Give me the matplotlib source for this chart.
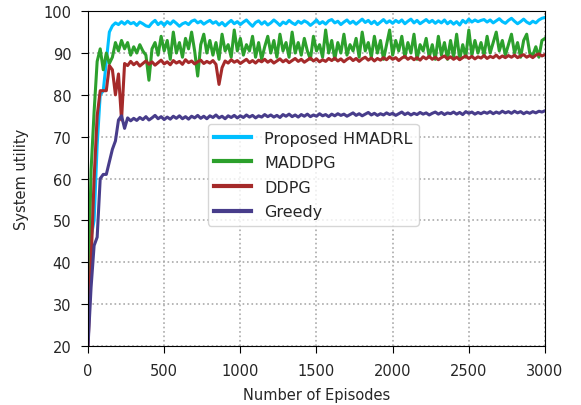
import numpy as np
import matplotlib
matplotlib.use("Agg")
import matplotlib.pyplot as plt

episodes = list(range(0, 3001, 20))

proposed = [
    25, 46, 50, 68, 80, 81, 88, 95, 96.5, 97.2,
    96.8, 97.5, 96.9, 97.6, 97.0, 97.3, 96.6, 97.4, 97.0, 96.5,
    96.3, 97.2, 97.8, 96.8, 97.4, 96.6, 97.5, 96.9, 97.7, 97.1,
    96.4, 97.0, 97.3, 96.8, 97.6, 97.9, 97.2, 97.6, 96.9, 97.4,
    97.8, 97.1, 97.5, 96.7, 97.3, 96.5, 97.2, 97.8, 97.0, 97.5,
    96.8, 97.4, 97.9, 97.1, 96.4, 97.3, 97.7, 96.9, 97.5, 96.7,
    97.2, 97.9, 97.3, 96.6, 97.4, 97.0, 97.8, 97.2, 96.8, 97.6,
    97.1, 97.7, 97.3, 96.6, 97.2, 97.9, 97.0, 97.5, 96.9, 97.7,
    98.0, 97.2, 97.6, 96.8, 97.4, 97.9, 97.1, 97.6, 96.9, 97.5,
    98.1, 97.3, 97.8, 97.0, 97.6, 96.8, 97.4, 98.0, 97.2, 97.7,
    97.1, 97.8, 97.3, 97.9, 97.0, 97.6, 98.1, 97.2, 97.8, 97.0,
    97.5, 98.0, 97.3, 97.8, 97.1, 97.7, 97.2, 97.9, 97.0, 97.6,
    96.9, 97.5, 96.7, 97.8, 97.2, 98.1, 97.4, 97.9, 97.5, 97.8,
    98.0, 97.4, 97.9, 97.2, 97.7, 98.2, 97.5, 97.1, 97.8, 98.3,
    97.6, 97.0, 97.5, 98.1, 97.4, 97.0, 97.6, 97.2, 97.9, 98.3, 98.5,
]

maddpg = [
    30, 62, 76, 88, 91, 86, 90, 87.5, 89, 92.5,
    90.5, 93, 91, 92.5, 89.5, 91.5, 90, 92, 90.5, 89.5,
    83.5, 91, 92.5, 89.5, 94, 90.5, 93, 88.5, 95, 90,
    92.5, 89, 93.5, 91, 95, 90.5, 84.5, 92, 94.5, 90,
    93, 89.5, 92.5, 88.5, 94.5, 90.5, 92, 89, 95.5, 90.5,
    93.5, 89.5, 92, 90.5, 94, 89, 92.5, 88.5, 91.5, 94,
    90, 93, 89, 94.5, 90.5, 92.5, 89, 95, 90, 92.5,
    89.5, 93.5, 90.5, 88.5, 94, 90.5, 92, 89, 95.5, 90,
    93, 88.5, 92.5, 90, 94.5, 89.5, 92, 90.5, 93.5, 89,
    95, 90.5, 92.5, 89, 94, 90, 93, 88.5, 92, 95.5,
    89.5, 93, 90.5, 94, 89, 92.5, 90, 94.5, 88.5, 92,
    90.5, 93.5, 89, 92, 88.5, 94, 89.5, 92.5, 88.5, 93,
    89, 94.5, 88.5, 92, 89, 95.5, 89.5, 93, 90, 92.5,
    89.5, 94, 90, 92.5, 95, 90.5, 93, 89.5, 92, 94.5,
    90, 92.5, 89, 93, 94.5, 90, 89.5, 91.5, 89, 93, 93.5,
]

ddpg = [
    20, 40, 60, 75, 81, 81, 81, 87, 86, 80,
    85, 74, 87.5, 87, 88, 87.2, 87.8, 86.9, 87.5, 88.1,
    87.3, 87.9, 87.1, 87.7, 88.3, 87.4, 87.9, 87.2, 88.2, 87.6,
    88.0, 87.3, 88.4, 87.7, 88.1, 87.4, 87.9, 88.3, 87.5, 88.0,
    87.6, 88.2, 87.3, 82.5, 86.5, 88.1, 87.6, 88.4, 87.8, 88.2,
    87.5, 88.0, 88.5, 87.7, 88.2, 87.6, 88.3, 87.9, 88.5, 87.8,
    88.3, 87.6, 88.1, 88.6, 87.9, 88.4, 87.7, 88.2, 88.7, 88.0,
    88.5, 87.8, 88.3, 88.8, 88.1, 88.6, 87.9, 88.4, 88.0, 88.7,
    88.2, 88.8, 88.1, 88.6, 87.9, 88.5, 88.9, 88.2, 88.7, 88.0,
    88.6, 89.0, 88.3, 88.8, 88.1, 88.7, 88.3, 88.9, 88.4, 89.1,
    88.5, 88.9, 88.2, 88.8, 89.2, 88.5, 89.0, 88.4, 88.9, 88.3,
    89.1, 88.6, 89.2, 88.5, 89.0, 88.4, 88.9, 89.3, 88.6, 89.1,
    88.5, 89.0, 88.4, 88.9, 89.3, 88.7, 89.2, 88.6, 89.1, 88.8,
    89.4, 88.7, 89.2, 88.9, 89.5, 88.8, 89.3, 88.9, 89.4, 89.0,
    89.5, 88.9, 89.3, 89.6, 89.0, 89.4, 88.9, 89.5, 89.8, 89.3, 89.6,
]

greedy = [
    20, 34, 44, 46, 60, 61, 61, 64, 67, 69,
    74, 75, 72, 74.5, 73.8, 74.4, 73.9, 74.6, 74.1, 74.8,
    74.0, 74.5, 75.1, 74.3, 74.8, 74.1, 74.7, 74.2, 74.9, 74.4,
    75.0, 74.3, 74.8, 74.2, 74.9, 74.5, 75.1, 74.4, 74.9, 74.3,
    75.0, 74.6, 75.2, 74.5, 74.9, 74.3, 75.0, 74.6, 75.1, 74.5,
    75.0, 74.6, 75.2, 74.7, 75.1, 74.5, 75.0, 74.7, 75.3, 74.8,
    75.2, 74.7, 75.1, 74.6, 75.3, 74.9, 75.4, 74.8, 75.2, 74.7,
    75.3, 74.9, 75.4, 74.8, 75.2, 74.9, 75.5, 75.0, 75.3, 74.8,
    75.4, 75.0, 75.5, 75.1, 75.4, 74.9, 75.3, 75.7, 75.1, 75.5,
    75.0, 75.4, 75.8, 75.2, 75.6, 75.1, 75.5, 75.2, 75.7, 75.3,
    75.6, 75.1, 75.5, 75.9, 75.3, 75.7, 75.2, 75.6, 75.3, 75.8,
    75.4, 75.7, 75.2, 75.6, 75.9, 75.4, 75.8, 75.3, 75.7, 75.5,
    75.9, 75.4, 75.8, 75.3, 76.0, 75.6, 75.9, 75.4, 75.8, 75.5,
    75.9, 75.6, 76.0, 75.5, 75.9, 75.6, 76.1, 75.7, 76.0, 75.6,
    76.1, 75.7, 76.0, 75.5, 75.9, 75.6, 76.0, 75.7, 76.1, 75.9, 76.2,
]

labels = ["Proposed HMADRL", "MADDPG", "DDPG", "Greedy"]
colors = ["#00BFFF", "#2CA02C", "#A52A2A", "#483D8B"]
series = [proposed, maddpg, ddpg, greedy]

text_color = "#262626"
fig = plt.figure(figsize=(5.81, 4.06), dpi=100)
ax = fig.add_axes([0.1515, 0.1453, 0.7865, 0.8247])
for s, c, l in zip(series, colors, labels):
    ax.plot(episodes, s, color=c, lw=2.2, label=l)

ax.set_xlim(0, 3000)
ax.set_ylim(20, 100)
ax.set_xticks(range(0, 3001, 500))
ax.set_yticks(range(20, 101, 10))
ax.tick_params(labelsize=10.5, length=5, pad=7, labelcolor=text_color)
ax.grid(True, linestyle=":", color="#AAAAAA", lw=1.2)
ax.set_xlabel("Number of Episodes", fontsize=10.5, color=text_color, labelpad=7)
ax.set_ylabel("System utility", fontsize=10.5, color=text_color, labelpad=10)
leg = ax.legend(loc="upper left", bbox_to_anchor=(0.2626, 0.6627), borderaxespad=0,
                fontsize=11.5, handlelength=2.3, labelspacing=0.6)
for t in leg.get_texts():
    t.set_color(text_color)
for line in leg.get_lines():
    line.set_linewidth(3)
fig.savefig("out.png", dpi=100)
